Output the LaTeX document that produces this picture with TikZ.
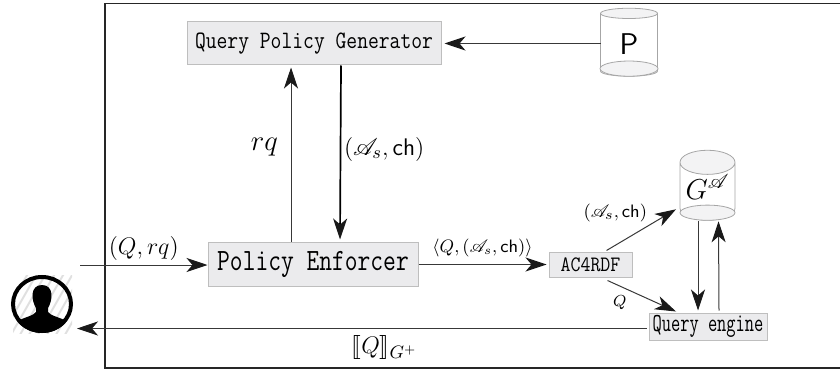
\documentclass[tikz,border=0pt]{standalone}
\usepackage{amsmath}
\usepackage{amssymb}
\usepackage{mathrsfs}
\usepackage{stmaryrd}
\usetikzlibrary{shapes.geometric, arrows.meta, positioning, calc}
\definecolor{boxfill}{RGB}{235, 235, 237}
\definecolor{boxline}{RGB}{190, 190, 190}
\newcommand{\asch}{(\mathscr{A}_s, \mathsf{ch})}
\tikzset{
    tip/.style={-{Stealth[length=10.5pt, width=7pt, inset=3pt, color=black!90]}},
    flow/.style={tip, draw=black!78, line width=0.5pt},
    module/.style={rectangle, draw=boxline, fill=boxfill, line width=0.5pt, inner sep=0pt},
    store/.style={cylinder, shape border rotate=90, aspect=0.55, draw=black!35, line width=0.4pt,
                  cylinder uses custom fill, cylinder end fill=boxfill!60, cylinder body fill=white,
                  inner sep=0pt, minimum width=28.5pt, minimum height=34pt, outer sep=0pt}
}
\begin{document}
\begin{tikzpicture}[x=0.5pt, y=-0.5pt]
    \useasboundingbox (0, 0) rectangle (840, 369);

    % Frame
    \draw[black!85, line width=0.9pt] (840, 3.5) -- (105, 3.5) -- (105, 368) -- (840, 368);

    % Modules
    \node[module, minimum width=127pt, minimum height=21.5pt, font=\ttfamily\fontsize{12.5}{14}\selectfont] (qpg) at (314, 43.5) {\scalebox{0.84}[1]{Query Policy Generator}};
    \node[module, minimum width=105pt, minimum height=22pt, font=\ttfamily\fontsize{15.5}{18}\selectfont] (pe) at (313, 264) {\scalebox{0.8}[1]{Policy Enforcer}};
    \node[module, minimum width=41.5pt, minimum height=12.5pt, font=\ttfamily\fontsize{11}{13}\selectfont] (ac) at (590.5, 264.5) {\scalebox{0.88}[1]{AC4RDF}};
    \node[module, minimum width=59pt, minimum height=13.5pt, font=\ttfamily\fontsize{13}{15}\selectfont] (qe) at (708, 326.5) {\scalebox{0.69}[1]{Query engine}};

    % Stores
    \node[store, font=\sffamily\fontsize{15}{18}\selectfont] (pol) at (629, 45) {\raisebox{1pt}{P}};
    \node[store, minimum width=27.5pt, font=\fontsize{14}{16}\selectfont] (grph) at (707.5, 191.5) {\raisebox{4.5pt}{$G^{\mathscr{A}}$}};
    \fill[boxfill!60, draw=black!35, line width=0.4pt] ($(pol.south)+(0, -7.6)$) ellipse (29 and 7.6);
    \fill[boxfill!60, draw=black!35, line width=0.4pt] ($(grph.south)+(0, -7.6)$) ellipse (27.5 and 7.6);

    % User
    \begin{scope}
        \clip (13, 275) rectangle (72, 333);
        \foreach \d in {0, 9, ..., 90} {
            \draw[black!12, line width=1pt] (\d - 10, 340) -- (\d + 30, 270);
        }
    \end{scope}
    \begin{scope}
        \clip (42, 304) ellipse (31 and 29);
        \fill[black] (42, 285) .. controls (30, 285) and (31, 300) .. (36, 308)
            -- (36, 312) .. controls (30, 319) and (16, 316) .. (8, 332) -- (8, 340)
            -- (76, 340) -- (76, 332) .. controls (68, 316) and (54, 319) .. (48, 312)
            -- (48, 308) .. controls (53, 300) and (54, 285) .. (42, 285) -- cycle;
    \end{scope}
    \draw[black, line width=2pt] (42, 304) ellipse (29 and 27);

    % Free ends
    \coordinate (usrin) at (80, 265);
    \coordinate (usrout) at (77, 328.5);

    % Arrows
    \draw[flow] (usrin) -- node[above=-1.5pt, pos=0.5, font=\fontsize{12}{14}\selectfont]{$(Q, rq)$} (pe.west |- usrin);
    \draw[flow] ([xshift=-11pt]pe.north) -- node[left=3pt, pos=0.54, font=\fontsize{14}{16}\selectfont]{$rq$} ([xshift=-11.5pt, yshift=-1pt]qpg.south);
    \draw[flow, line width=0.85pt, black] ([xshift=13.5pt]qpg.south) -- node[right=-2pt, pos=0.48, font=\fontsize{12.6}{14}\selectfont]{$\asch$} ([xshift=13.5pt, yshift=1pt]pe.north);
    \draw[flow] (pol.west |- qpg.east) -- ([xshift=1.5pt]qpg.east);
    \draw[flow] (pe.east |- ac.west) -- node[above=0pt, pos=0.5, font=\fontsize{9}{11}\selectfont]{$\langle Q, \asch\rangle$} ([xshift=-1pt]ac.west);
    \draw[flow] ([xshift=8pt, yshift=0.5pt]ac.north) -- node[xshift=-13pt, yshift=8.5pt, font=\fontsize{9.4}{11}\selectfont]{$\asch$} ([xshift=-15.75pt, yshift=5.5pt]grph.south);
    \draw[flow] ([xshift=8.5pt, yshift=-1.5pt]ac.south) -- node[xshift=-11pt, yshift=-3.5pt, font=\fontsize{8}{10}\selectfont]{$Q$} ([xshift=-16pt, yshift=0.5pt]qe.north);
    \draw[flow] ([xshift=-4.75pt, yshift=-0.5pt]grph.south) -- ([xshift=-5pt, yshift=1pt]qe.north);
    \draw[flow] ([xshift=5.5pt, yshift=1pt]qe.north) -- ([xshift=5.5pt, yshift=-0.5pt]grph.south);
    \draw[flow] ([xshift=-1pt, yshift=-1pt]qe.west) -- node[below=0pt, pos=0.46, font=\fontsize{13}{16}\selectfont]{$\llbracket Q \rrbracket_{G^{+}}$} (usrout);
\end{tikzpicture}
\end{document}
